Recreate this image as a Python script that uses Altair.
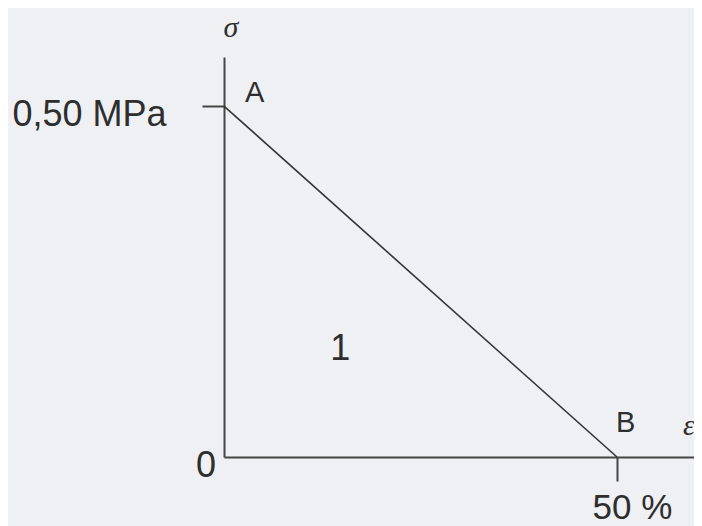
import altair as alt
import pandas as pd

# Values
strain = [0, 50]          # epsilon, %
stress = [0.50, 0.0]      # sigma, MPa
point_names = ["A", "B"]
x_tick_values = [50]
y_tick_values = [0.50]
x_tick_label = "50 %"
y_tick_label = "0,50 MPa"
origin_label = "0"
region_label = "1"
region_pos = [14.8, 0.138]
x_domain = [0, 59.8]
y_domain = [0, 0.57]

line_df = pd.DataFrame({"strain": strain, "stress": stress, "name": point_names})

ink = "#333333"
axis_ink = "#454545"
text_ink = "#2e2e2e"
sans = "Liberation Sans"
serif = "Liberation Serif"

xs = alt.Scale(domain=x_domain, nice=False, zero=False)
ys = alt.Scale(domain=y_domain, nice=False, zero=False)

x_axis = alt.Axis(values=x_tick_values, tickSize=24, tickWidth=2, tickColor=axis_ink,
                  domainColor=axis_ink, domainWidth=2, grid=False, title=None,
                  labelExpr="'" + x_tick_label + "'", labelFontSize=35, labelFont=sans,
                  labelColor=text_ink, labelPadding=9, labelOffset=15, labelFlush=False)
y_axis = alt.Axis(values=y_tick_values, tickSize=22, tickWidth=2, tickColor=axis_ink,
                  domainColor=axis_ink, domainWidth=2, grid=False, title=None,
                  labelExpr="'" + y_tick_label + "'", labelFontSize=36, labelFont=sans,
                  labelColor=text_ink, labelPadding=36, labelOffset=8, labelFlush=False)

line = alt.Chart(line_df).mark_line(color=ink, strokeWidth=1.6).encode(
    x=alt.X("strain:Q", scale=xs, axis=x_axis),
    y=alt.Y("stress:Q", scale=ys, axis=y_axis),
)

a_lbl = alt.Chart(line_df.iloc[[0]]).mark_text(
    align="left", baseline="alphabetic", dx=21, dy=-4, fontSize=29, font=sans, color=text_ink
).encode(x=alt.X("strain:Q", scale=xs), y=alt.Y("stress:Q", scale=ys), text="name:N")

b_lbl = alt.Chart(line_df.iloc[[1]]).mark_text(
    align="left", baseline="alphabetic", dx=-1, dy=-25, fontSize=29, font=sans, color=text_ink
).encode(x=alt.X("strain:Q", scale=xs), y=alt.Y("stress:Q", scale=ys), text="name:N")

origin = alt.Chart(pd.DataFrame({"x": [x_domain[0]], "y": [y_domain[0]], "t": [origin_label]})).mark_text(
    align="right", baseline="alphabetic", dx=-8, dy=20, fontSize=36, font=sans, color=text_ink
).encode(x=alt.X("x:Q", scale=xs), y=alt.Y("y:Q", scale=ys), text="t:N")

region = alt.Chart(pd.DataFrame({"x": [region_pos[0]], "y": [region_pos[1]], "t": [region_label]})).mark_text(
    align="center", baseline="alphabetic", fontSize=36, font=sans, color=text_ink
).encode(x=alt.X("x:Q", scale=xs), y=alt.Y("y:Q", scale=ys), text="t:N")

sigma = alt.Chart(pd.DataFrame({"x": [x_domain[0]], "y": [y_domain[1]], "t": ["σ"]})).mark_text(
    align="center", baseline="alphabetic", dx=7, dy=-20, fontSize=30, font=serif,
    fontStyle="italic", color=text_ink
).encode(x=alt.X("x:Q", scale=xs), y=alt.Y("y:Q", scale=ys), text="t:N")

eps = alt.Chart(pd.DataFrame({"x": [strain[1]], "y": [y_domain[0]], "t": ["ε"]})).mark_text(
    align="left", baseline="alphabetic", dx=66, dy=-22, fontSize=30, font=serif,
    fontStyle="italic", color=text_ink
).encode(x=alt.X("x:Q", scale=xs), y=alt.Y("y:Q", scale=ys), text="t:N")

chart = alt.layer(line, a_lbl, b_lbl, origin, region, sigma, eps).properties(
    width=470, height=400,
    padding={"left": 216, "top": 49, "right": 0, "bottom": 69},
    autosize="none",
    background="#eff0f3",
).configure_view(stroke=None)

chart.save("out.html", embed_options={"renderer": "svg", "actions": False})
